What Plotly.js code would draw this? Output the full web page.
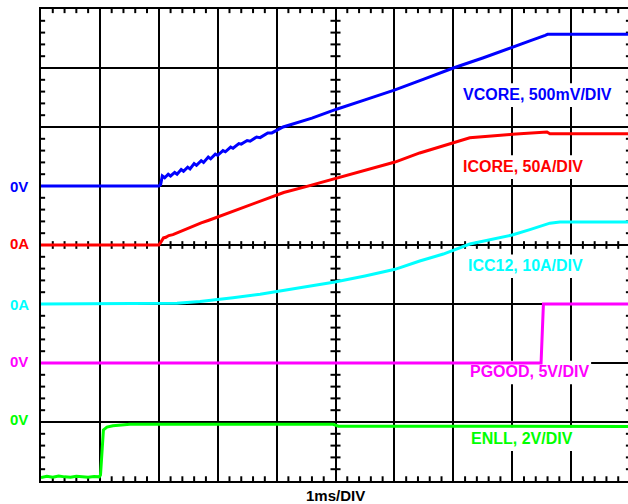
<!DOCTYPE html>
<html>
<head>
<meta charset="utf-8">
<script src="https://cdn.plot.ly/plotly-3.0.1.min.js"></script>
<style>
  html, body { margin: 0; padding: 0; background: #fff; overflow: hidden; width: 628px; height: 504px; }
  #chart { width: 630px; height: 504px; }
</style>
</head>
<body>
<div id="chart"></div>
<script>
// ---- Data (time in ms, 1 ms/DIV) ----
const vcoreT = [0, 2.00, 2.03, 2.06, 2.10, 2.16, 2.20, 2.27, 2.31, 2.38, 2.42, 2.49, 2.53, 2.60, 2.64, 2.72, 2.76, 2.84, 2.88, 2.96, 3.00, 3.09, 3.13, 3.22, 3.26, 3.36, 3.40, 3.50, 3.55, 3.66, 3.72, 3.85, 3.92, 4.11, 4.60, 5.03, 5.50, 6.01, 6.50, 7.00, 7.50, 7.96, 8.30, 8.56, 8.60, 10.0];
const vcoreV = [0, 0, 0.01, 0.085, 0.07, 0.10, 0.085, 0.115, 0.10, 0.14, 0.125, 0.16, 0.145, 0.19, 0.175, 0.215, 0.20, 0.245, 0.23, 0.27, 0.26, 0.30, 0.29, 0.33, 0.32, 0.36, 0.355, 0.385, 0.38, 0.415, 0.41, 0.45, 0.45, 0.50, 0.575, 0.653, 0.73, 0.814, 0.905, 1.0, 1.085, 1.172, 1.23, 1.277, 1.285, 1.285];

const icoreT = [0, 2.00, 2.03, 2.08, 2.12, 2.17, 2.24, 2.32, 2.40, 2.50, 2.60, 2.72, 2.85, 3.00, 3.25, 3.55, 3.85, 4.12, 4.50, 5.03, 5.50, 6.01, 6.43, 7.00, 7.28, 8.00, 8.30, 8.59, 8.64, 10.0];
const icoreA = [0, 0, 2, 6, 6.5, 8, 8.8, 10.5, 12.3, 14.3, 16.4, 18.7, 21, 23.7, 28.5, 33.9, 39, 44.5, 49.5, 56.8, 63.5, 70.3, 78, 86.7, 90.9, 93.8, 94.9, 95.8, 94.3, 94.3];

const icc12T = [0, 2.00, 2.31, 2.70, 3.00, 3.26, 3.72, 4.14, 4.50, 4.99, 5.50, 6.01, 6.43, 6.83, 7.28, 8.00, 8.30, 8.64, 8.81, 10.0];
const icc12A = [0, 0, 0.12, 0.42, 0.72, 1.07, 1.64, 2.29, 2.85, 3.73, 4.75, 5.88, 7.29, 8.47, 10.17, 11.7, 12.6, 13.7, 13.9, 13.9];

const pgoodT = [0, 8.49, 8.53, 10.0];
const pgoodV = [0, 0, 5, 5];

const enllT = [0, 0.10, 0.20, 0.30, 0.40, 0.50, 0.60, 0.70, 0.80, 0.90, 0.99, 1.01, 1.03, 1.06, 1.12, 1.22, 1.51, 2.50, 4.96, 5.05, 10.0];
const enllV = [0.12, 0.16, 0.13, 0.17, 0.14, 0.13, 0.16, 0.14, 0.13, 0.15, 0.14, 0.20, 1.00, 1.73, 1.83, 1.875, 1.92, 1.925, 1.92, 1.86, 1.85];

const channelNames = ['VCORE', 'ICORE', 'ICC12', 'PGOOD', 'ENLL'];
const channelLabels = ['VCORE, 500mV/DIV', 'ICORE, 50A/DIV', 'ICC12, 10A/DIV', 'PGOOD, 5V/DIV', 'ENLL, 2V/DIV'];
const groundLabels = ['0V', '0A', '0A', '0V', '0V'];
const xAxisLabel = '1ms/DIV';

// ---- Channel settings (scope scale and position) ----
const channels = [
  { t: vcoreT, v: vcoreV, perDiv: 0.5, zeroDiv: 5, color: '#0000ff', labelX: 7.13, labelY: 6.55, labelW: 2.58, gndY: 5.0 },
  { t: icoreT, v: icoreA, perDiv: 50,  zeroDiv: 4, color: '#ff0000', labelX: 7.13, labelY: 5.33, labelW: 2.08, gndY: 4.03 },
  { t: icc12T, v: icc12A, perDiv: 10,  zeroDiv: 3, color: '#00ffff', labelX: 7.21, labelY: 3.65, labelW: 2.03, gndY: 3.0 },
  { t: pgoodT, v: pgoodV, perDiv: 5,   zeroDiv: 2, color: '#ff00ff', labelX: 7.25, labelY: 1.85, labelW: 2.09, gndY: 2.03 },
  { t: enllT,  v: enllV,  perDiv: 2,   zeroDiv: 0, color: '#00ff00', labelX: 7.26, labelY: 0.72, labelW: 1.80, gndY: 1.05 }
];

const traces = channels.map((c, i) => ({
  type: 'scatter',
  mode: 'lines',
  name: channelNames[i],
  x: c.t,
  y: c.v.map(v => c.zeroDiv + v / c.perDiv),
  line: { color: c.color, width: 3 },
  hoverinfo: 'skip'
}));

// minor tick marks (5 per division) on edges and centre cross
const shapes = [];
const tk = { color: '#000', width: 2 };
for (let k = 1; k < 50; k++) {
  if (k % 5 === 0) continue;
  const x = k * 0.2;
  shapes.push({ type: 'line', layer: 'between', xref: 'x', yref: 'y', x0: x, x1: x, y0: 8, y1: 7.93, line: tk });
  shapes.push({ type: 'line', layer: 'between', xref: 'x', yref: 'y', x0: x, x1: x, y0: 0, y1: 0.08, line: tk });
  shapes.push({ type: 'line', layer: 'between', xref: 'x', yref: 'y', x0: x, x1: x, y0: 3.935, y1: 4.065, line: tk });
}
for (let k = 1; k < 40; k++) {
  if (k % 5 === 0) continue;
  const y = k * 0.2;
  shapes.push({ type: 'line', layer: 'between', xref: 'x', yref: 'y', x0: 0, x1: 0.07, y0: y, y1: y, line: tk });
  shapes.push({ type: 'line', layer: 'between', xref: 'x', yref: 'y', x0: 10, x1: 9.93, y0: y, y1: y, line: tk });
  shapes.push({ type: 'line', layer: 'between', xref: 'x', yref: 'y', x0: 4.915, x1: 5.085, y0: y, y1: y, line: tk });
}
// white boxes behind the channel labels (over the grid, under the traces)
channels.forEach(c => {
  shapes.push({
    type: 'rect', layer: 'between', xref: 'x', yref: 'y',
    x0: c.labelX - 0.03, x1: c.labelX + c.labelW, y0: c.labelY - 0.21, y1: c.labelY + 0.19,
    fillcolor: '#ffffff', line: { width: 0 }
  });
});

const font = 'Liberation Sans, Arial, sans-serif';
const annotations = [];
channels.forEach((c, i) => {
  annotations.push({
    text: '<b>' + channelLabels[i] + '</b>',
    xref: 'x', yref: 'y', x: c.labelX, y: c.labelY,
    xanchor: 'left', yanchor: 'middle', showarrow: false,
    borderpad: 1,
    font: { family: font, size: 16, color: c.color }
  });
  annotations.push({
    text: '<b>' + groundLabels[i] + '</b>',
    xref: 'paper', yref: 'y', x: 0, y: c.gndY, xshift: -33,
    xanchor: 'left', yanchor: 'middle', showarrow: false,
    font: { family: font, size: 15, color: c.color }
  });
});
annotations.push({
  text: '<b>' + xAxisLabel + '</b>',
  xref: 'paper', yref: 'paper', x: 0.5, y: 0, yshift: -14,
  xanchor: 'center', yanchor: 'middle', showarrow: false,
  font: { family: font, size: 15, color: '#000' }
});

const axisCommon = {
  showgrid: true, gridcolor: '#000', gridwidth: 2,
  zeroline: false, showline: true, mirror: true, linecolor: '#000', linewidth: 2,
  showticklabels: false, ticks: '', dtick: 1, tick0: 0, fixedrange: true
};

const layout = {
  width: 630, height: 504,
  margin: { l: 41, r: 0, t: 9, b: 23 },
  paper_bgcolor: '#fff', plot_bgcolor: '#fff',
  showlegend: false,
  xaxis: Object.assign({ range: [0, 10] }, axisCommon),
  yaxis: Object.assign({ range: [0, 8] }, axisCommon),
  shapes: shapes,
  annotations: annotations
};

Plotly.newPlot('chart', traces, layout, { staticPlot: true, displayModeBar: false });
</script>
</body>
</html>
